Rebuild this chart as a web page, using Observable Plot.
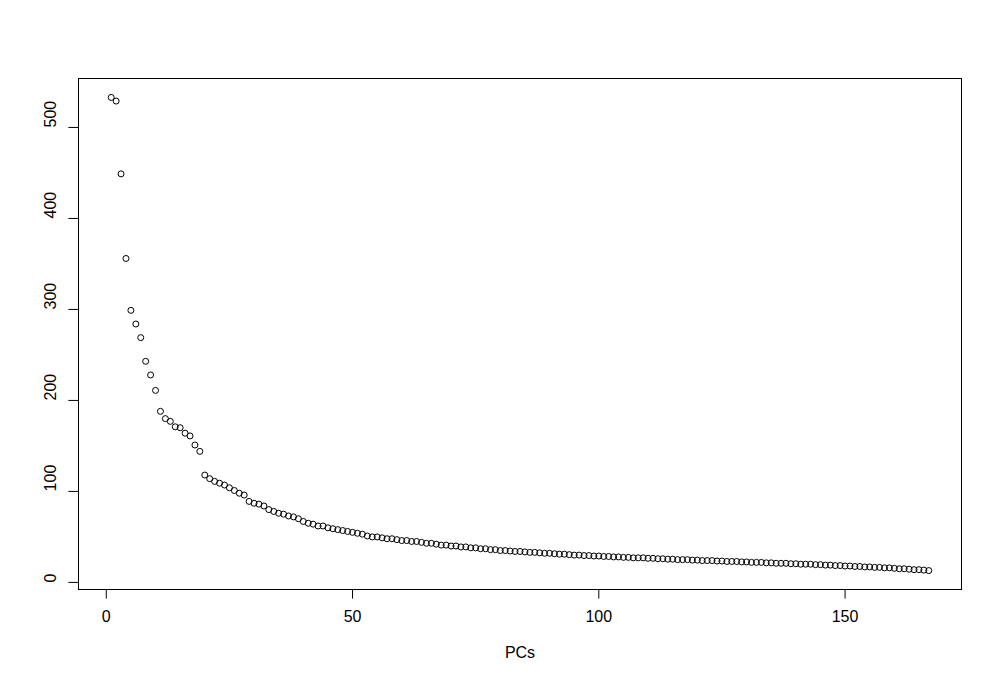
<!DOCTYPE html>
<html>
<head>
<meta charset="utf-8">
<script src="https://cdn.jsdelivr.net/npm/d3@7"></script>
<script src="https://cdn.jsdelivr.net/npm/@observablehq/plot@0.6"></script>
<style>
  html, body { margin: 0; padding: 0; background: #ffffff; }
  #chart { width: 1000px; height: 686px; }
</style>
</head>
<body>
<div id="chart"></div>
<script>
// Eigenvalue / variance per principal component
const pcValues = [
  533, 529, 449, 356, 299, 284, 269, 243, 228, 211,
  188, 180, 177, 171, 170, 164, 161, 151, 144, 118,
  114, 111, 109, 107, 104, 101, 98, 96, 89, 87,
  86, 84, 80, 78, 76, 75, 73, 72, 70, 67,
  65, 64, 62, 62, 60, 59, 58, 57, 56, 55,
  54, 53, 51, 50, 50, 49, 48, 48, 47, 46,
  46, 45, 45, 44, 43, 43, 42, 41, 41, 40,
  40, 39, 39, 38, 38, 37, 37, 36, 36, 35,
  35, 34.5, 34, 34, 33.5, 33, 33, 32.5, 32, 32,
  31.5, 31, 31, 30.5, 30, 30, 29.5, 29.5, 29, 29,
  28.5, 28.5, 28, 28, 27.5, 27.5, 27, 27, 27, 26.5,
  26.5, 26, 26, 25.5, 25.5, 25, 25, 25, 24.5, 24.5,
  24, 24, 24, 23.5, 23.5, 23, 23, 23, 22.5, 22.5,
  22, 22, 22, 21.5, 21.5, 21, 21, 21, 20.5, 20.5,
  20, 20, 20, 19.5, 19.5, 19, 19, 18.5, 18.5, 18,
  18, 17.5, 17.5, 17, 17, 16.5, 16.5, 16, 16, 15.5,
  15, 15, 14.5, 14, 14, 13.5, 13
];
const pcIndex = pcValues.map((_, i) => i + 1);
const xTicks = [0, 50, 100, 150];
const yTicks = [0, 100, 200, 300, 400, 500];
const xLabel = "PCs";

const data = pcIndex.map((pc, i) => ({pc, value: pcValues[i]}));

// R-style 4% axis expansion
function expand([a, b]) { const d = (b - a) * 0.04; return [a - d, b + d]; }
const xDomain = expand(d3.extent(pcIndex));
const yDomain = expand(d3.extent(pcValues));

const font = "'Liberation Sans', Arial, Helvetica, sans-serif";

const chart = Plot.plot({
  width: 1000,
  height: 686,
  marginLeft: 78,
  marginRight: 39,
  marginTop: 78,
  marginBottom: 97,
  style: {fontFamily: font, fontSize: "16px", background: "#ffffff", color: "#000000"},
  x: {domain: xDomain},
  y: {domain: yDomain},
  marks: [
    Plot.frame({stroke: "#000000", strokeWidth: 1}),
    Plot.axisX({ticks: xTicks, tickSize: 9.6, tickPadding: 12, fontSize: 16, label: null, stroke: "#000000"}),
    Plot.axisY({ticks: yTicks, tickSize: 9.6, tickFormat: () => "", label: null, stroke: "#000000"}),
    Plot.text(yTicks, {y: d => d, text: d => String(d), frameAnchor: "left", rotate: -90, dx: -28, fontSize: 16, fill: "#000000"}),
    Plot.text([xLabel], {text: d => d, frameAnchor: "bottom", dy: 68, fontSize: 16, fill: "#000000"}),
    Plot.dot(data, {x: "pc", y: "value", r: 3, stroke: "#000000", strokeWidth: 1, fill: "none"})
  ]
});
document.getElementById("chart").appendChild(chart);
</script>
</body>
</html>
